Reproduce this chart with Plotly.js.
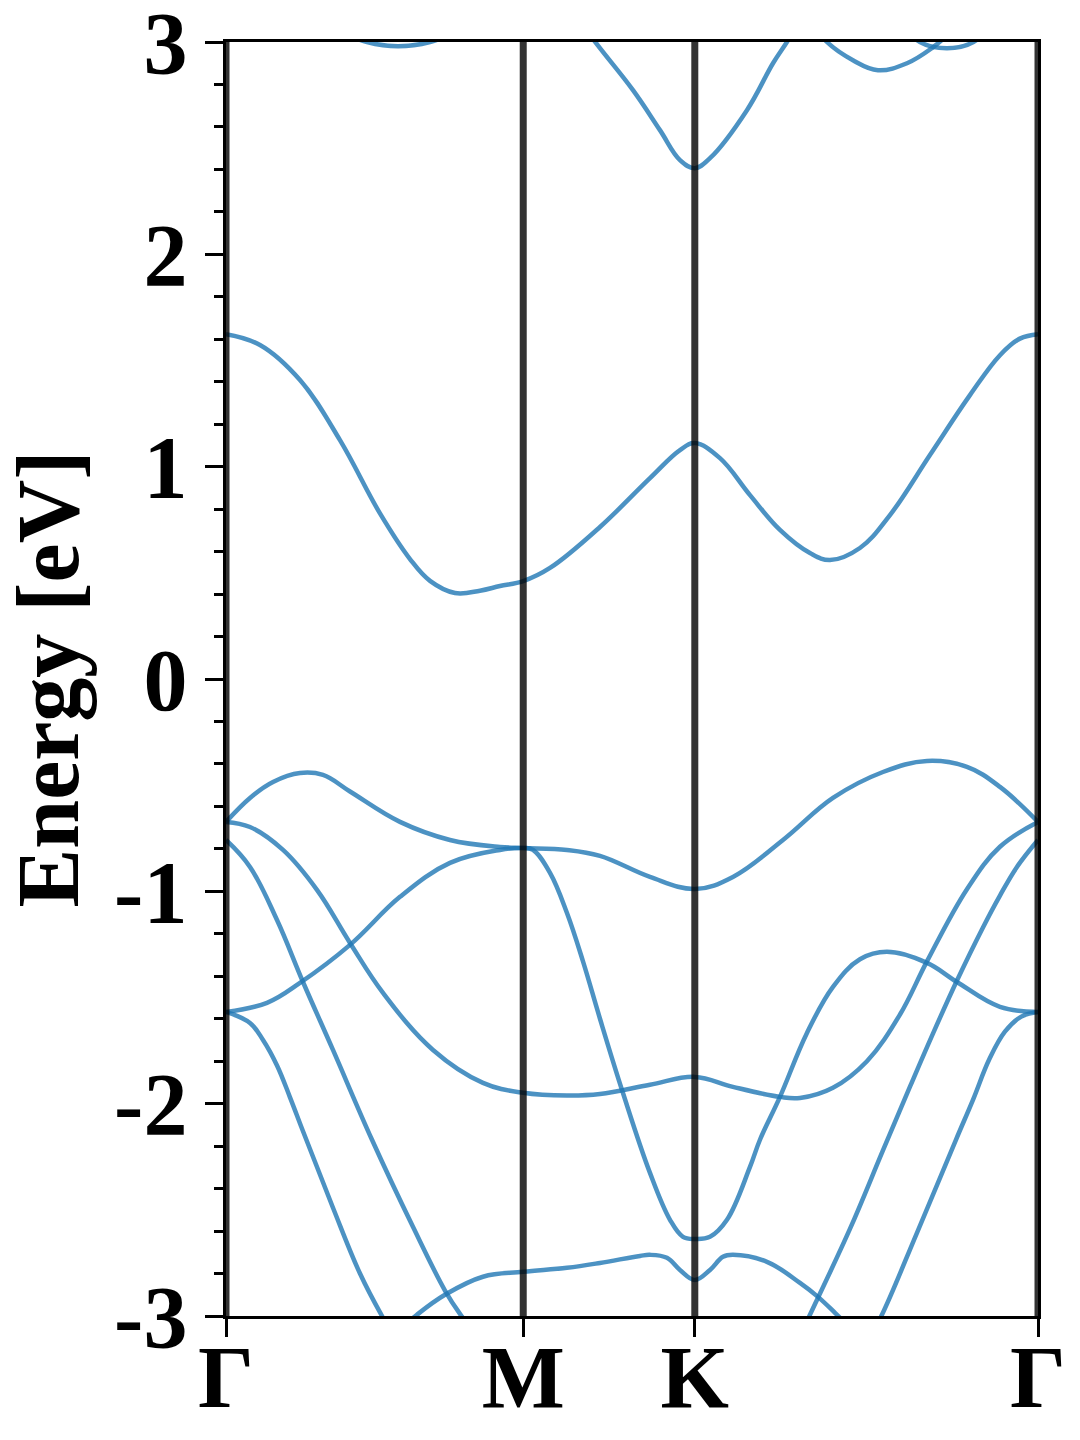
<!DOCTYPE html>
<html>
<head>
<meta charset="utf-8">
<script src="https://cdn.plot.ly/plotly-3.0.1.min.js"></script>
<style>html,body{margin:0;padding:0;background:#fff;}#plot{width:1080px;height:1440px;}</style>
</head>
<body>
<div id="plot"></div>
<script>
// High-symmetry points (path distance) and labels
const kPoints = [0, 0.5774, 0.9107, 1.5774];
const kLabels = ['Γ', 'M', 'K', 'Γ'];
const yTickVals = [-3, -2, -1, 0, 1, 2, 3];
const yTickText = ['-3', '-2', '-1', '0', '1', '2', '3'];

// Conduction bands
const c1K = [0, 0.066, 0.1437, 0.2214, 0.2991, 0.3574, 0.3963, 0.4448, 0.4934, 0.5322, 0.5774, 0.6294, 0.7265, 0.8236, 0.8819, 0.9107, 0.9596, 1.0179, 1.0761, 1.1344, 1.1733, 1.2315, 1.2898, 1.3675, 1.4452, 1.5035, 1.5423, 1.5774];
const c1E = [1.624, 1.573, 1.408, 1.125, 0.780, 0.565, 0.462, 0.405, 0.416, 0.438, 0.461, 0.523, 0.716, 0.946, 1.078, 1.111, 1.040, 0.866, 0.702, 0.593, 0.560, 0.617, 0.772, 1.055, 1.337, 1.525, 1.603, 1.624];
const c2K = [0.66, 0.7265, 0.7906, 0.8430, 0.8819, 0.9107, 0.9402, 1.0120, 1.0626, 1.0897, 1.115];
const c2E = [3.18, 2.971, 2.773, 2.585, 2.444, 2.406, 2.453, 2.679, 2.900, 3.00, 3.10];
const t1K = [0.22, 0.2739, 0.3341, 0.3963, 0.45];
const t1E = [3.05, 3.00, 2.98, 3.00, 3.05];
const t2K = [1.12, 1.1674, 1.2179, 1.2665, 1.3229, 1.3733, 1.40, 1.44];
const t2E = [3.15, 3.00, 2.914, 2.867, 2.900, 2.975, 3.03, 3.12];
const t3K = [1.30, 1.348, 1.4006, 1.452, 1.50];
const t3E = [3.12, 3.00, 2.971, 3.00, 3.12];

// Valence bands
const v1K = [0, 0.0466, 0.0913, 0.1437, 0.1884, 0.2409, 0.3380, 0.4351, 0.5322, 0.5774, 0.6624, 0.7265, 0.8236, 0.9107, 0.9848, 1.0820, 1.1791, 1.2762, 1.3617, 1.4394, 1.5035, 1.5774];
const v1E = [-0.673, -0.560, -0.485, -0.443, -0.452, -0.530, -0.673, -0.758, -0.791, -0.796, -0.805, -0.833, -0.932, -0.989, -0.932, -0.758, -0.560, -0.438, -0.386, -0.414, -0.508, -0.673];
const v2K = [0, 0.0466, 0.1107, 0.1767, 0.2409, 0.3050, 0.4021, 0.4992, 0.5774, 0.6624, 0.7265, 0.8236, 0.9107, 0.9848, 1.0761, 1.1150, 1.1791, 1.2451, 1.3093, 1.3617, 1.4394, 1.5035, 1.5774];
const v2E = [-0.673, -0.697, -0.805, -0.993, -1.243, -1.478, -1.747, -1.902, -1.949, -1.962, -1.955, -1.911, -1.874, -1.921, -1.968, -1.973, -1.925, -1.800, -1.580, -1.330, -0.990, -0.790, -0.673];
const v3K = [0, 0.0796, 0.1437, 0.2409, 0.3380, 0.4351, 0.5322, 0.5774, 0.5963, 0.6294, 0.6624, 0.6935, 0.7265, 0.7712, 0.8236, 0.8625, 0.8877, 0.9107, 0.9402, 0.9732, 1.0179, 1.0373, 1.0761, 1.1286, 1.1791, 1.2315, 1.2840, 1.3617, 1.4200, 1.5035, 1.5774];
const v3E = [-1.568, -1.525, -1.431, -1.252, -1.026, -0.866, -0.805, -0.796, -0.805, -0.913, -1.102, -1.330, -1.600, -1.950, -2.326, -2.547, -2.627, -2.637, -2.627, -2.547, -2.298, -2.170, -1.968, -1.667, -1.450, -1.320, -1.285, -1.337, -1.427, -1.544, -1.568];
const v4aK = [0, 0.0466, 0.0991, 0.1496, 0.2078, 0.2836, 0.3632, 0.4254, 0.4545, 0.49];
const v4aE = [-0.758, -0.885, -1.135, -1.427, -1.747, -2.170, -2.580, -2.880, -2.990, -3.10];
const v4bK = [1.11, 1.1344, 1.2121, 1.2762, 1.3287, 1.3733, 1.4200, 1.4705, 1.5035, 1.5365, 1.5774];
const v4bE = [-3.12, -2.994, -2.590, -2.220, -1.920, -1.670, -1.420, -1.170, -1.020, -0.885, -0.758];
const v5aK = [0, 0.0466, 0.0719, 0.0991, 0.1243, 0.1496, 0.2078, 0.2603, 0.3030, 0.33];
const v5aE = [-1.568, -1.620, -1.700, -1.820, -1.970, -2.130, -2.490, -2.800, -3.000, -3.11];
const v5bK = [1.24, 1.2743, 1.3423, 1.4180, 1.4511, 1.4830, 1.5135, 1.5450, 1.5774];
const v5bE = [-3.15, -2.994, -2.608, -2.170, -1.982, -1.790, -1.660, -1.590, -1.568];
const v6K = [0.34, 0.3710, 0.4254, 0.4992, 0.5774, 0.6624, 0.7265, 0.8042, 0.8236, 0.8566, 0.8819, 0.9107, 0.9402, 0.9654, 0.9848, 1.0509, 1.1150, 1.1500, 1.1830, 1.21];
const v6E = [-3.06, -2.994, -2.900, -2.815, -2.792, -2.773, -2.750, -2.717, -2.712, -2.726, -2.783, -2.830, -2.783, -2.721, -2.712, -2.745, -2.844, -2.910, -2.985, -3.05];

const bands = [
  [c1K, c1E], [c2K, c2E], [t1K, t1E], [t2K, t2E], [t3K, t3E],
  [v1K, v1E], [v2K, v2E], [v3K, v3E], [v4aK, v4aE], [v4bK, v4bE],
  [v5aK, v5aE], [v5bK, v5bE], [v6K, v6E]
];

const bandColor = 'rgba(31,119,180,0.8)';
const traces = bands.map(b => ({
  x: b[0], y: b[1], type: 'scatter', mode: 'lines',
  line: {color: bandColor, width: 4.5, shape: 'spline', smoothing: 1.1},
  hoverinfo: 'skip', showlegend: false
}));

const font = {family: 'Liberation Serif, Times New Roman, serif', size: 88, color: '#000', weight: 'bold'};

const shapes = kPoints.map(k => ({
  type: 'line', xref: 'x', yref: 'paper', x0: k, x1: k, y0: 0, y1: 1,
  line: {color: 'rgba(0,0,0,0.8)', width: 7}, layer: 'above'
}));

const layout = {
  width: 1080, height: 1440,
  margin: {l: 226, r: 42, t: 42, b: 124},
  paper_bgcolor: '#fff', plot_bgcolor: '#fff',
  showlegend: false,
  font: font,
  xaxis: {
    range: [kPoints[0], kPoints[kPoints.length - 1]],
    tickmode: 'array', tickvals: kPoints, ticktext: kLabels,
    ticks: 'outside', ticklen: 18, tickwidth: 3, tickcolor: '#000',
    showline: true, linecolor: '#000', linewidth: 3, mirror: true,
    showgrid: false, zeroline: false,
    tickfont: font, ticklabelstandoff: -36, ticklabeloverflow: 'allow'
  },
  yaxis: {
    range: [-3, 3],
    tickmode: 'array', tickvals: yTickVals, ticktext: yTickText,
    ticks: 'outside', ticklen: 18, tickwidth: 3, tickcolor: '#000',
    minor: {tickmode: 'linear', tick0: -3, dtick: 0.2, ticks: 'outside', ticklen: 9, tickwidth: 3, tickcolor: '#000', showgrid: false},
    showline: true, linecolor: '#000', linewidth: 3, mirror: true,
    showgrid: false, zeroline: false,
    tickfont: font, ticklabelstandoff: 0, ticklabeloverflow: 'allow',
    title: {text: 'Energy [eV]', font: font, standoff: 50}
  },
  shapes: shapes
};

Plotly.newPlot('plot', traces, layout, {staticPlot: true, displayModeBar: false});
</script>
</body>
</html>
